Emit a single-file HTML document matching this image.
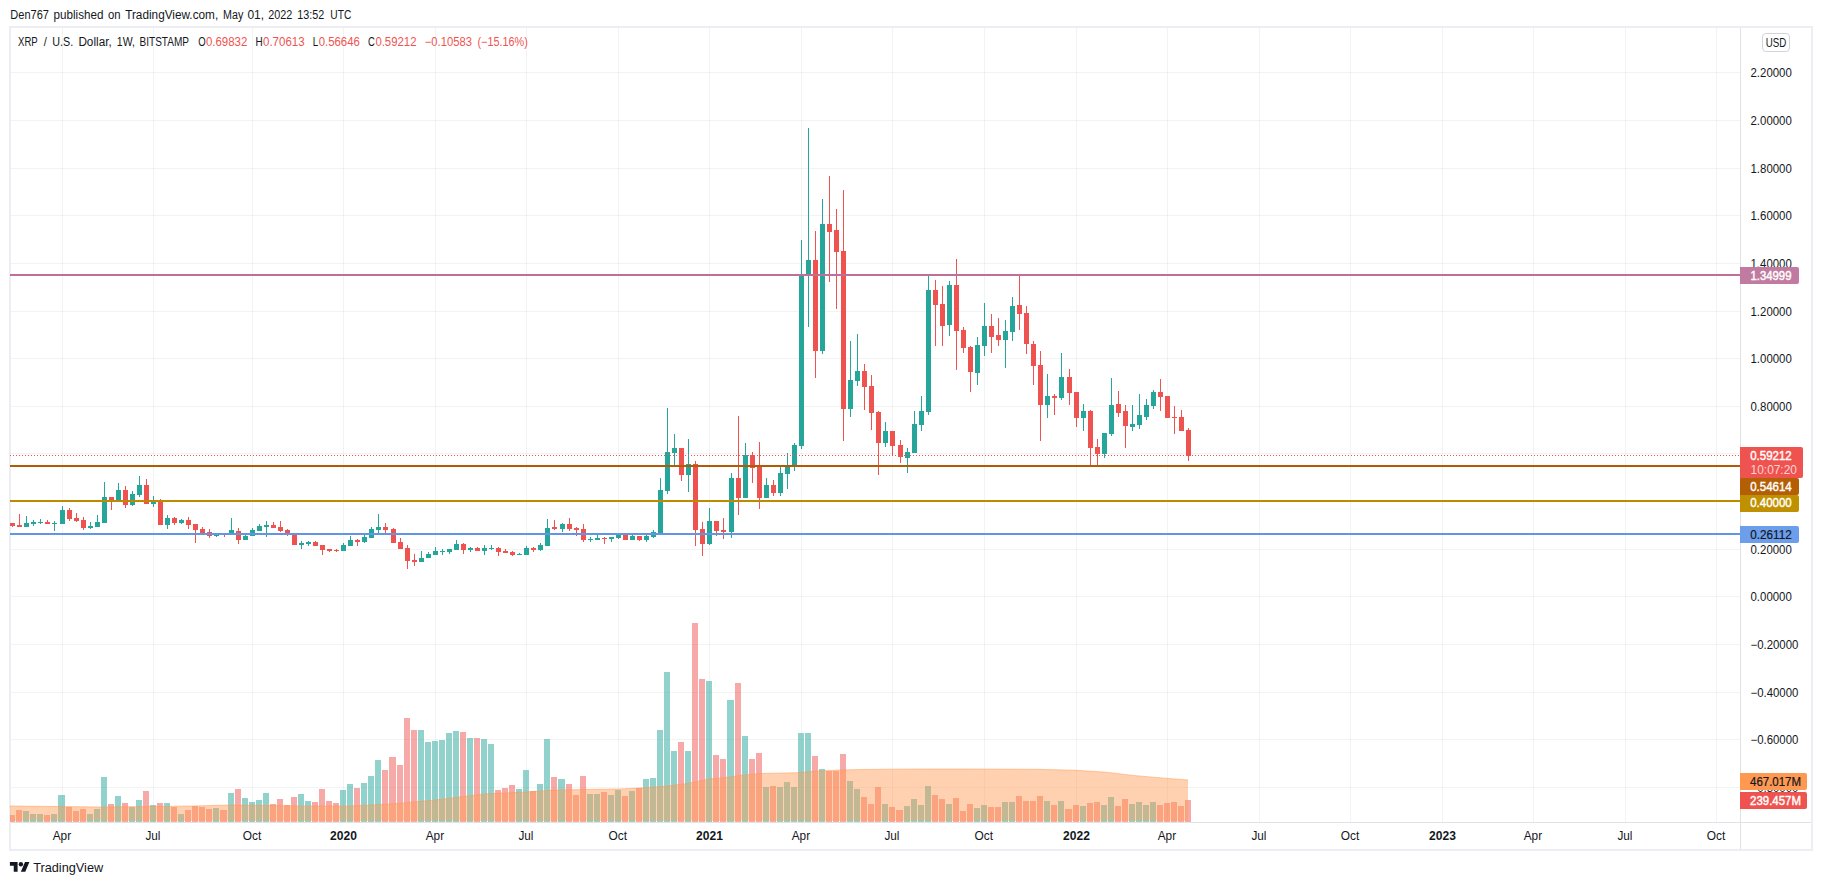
<!DOCTYPE html>
<html><head><meta charset="utf-8"><title>XRP / U.S. Dollar</title><style>html,body{margin:0;padding:0;background:#fff}body{width:1822px;height:885px;overflow:hidden}svg{display:block}</style></head><body>
<svg width="1822" height="885" viewBox="0 0 1822 885" font-family='"Liberation Sans", sans-serif'>
<rect width="1822" height="885" fill="#fff"/>
<defs><clipPath id="pane"><rect x="10" y="28" width="1730" height="794"/></clipPath></defs>
<g shape-rendering="crispEdges">
<rect x="9" y="26" width="1804" height="2" fill="#eceef3"/>
<rect x="9" y="849" width="1804" height="2" fill="#eceef3"/>
<rect x="9" y="26" width="2" height="825" fill="#eceef3"/>
<rect x="1811" y="26" width="2" height="825" fill="#eceef3"/>
</g>
<g fill="rgba(42,46,57,0.06)" shape-rendering="crispEdges">
<rect x="11" y="787" width="1729" height="1"/>
<rect x="11" y="739" width="1729" height="1"/>
<rect x="11" y="692" width="1729" height="1"/>
<rect x="11" y="644" width="1729" height="1"/>
<rect x="11" y="596" width="1729" height="1"/>
<rect x="11" y="549" width="1729" height="1"/>
<rect x="11" y="501" width="1729" height="1"/>
<rect x="11" y="453" width="1729" height="1"/>
<rect x="11" y="406" width="1729" height="1"/>
<rect x="11" y="358" width="1729" height="1"/>
<rect x="11" y="311" width="1729" height="1"/>
<rect x="11" y="263" width="1729" height="1"/>
<rect x="11" y="215" width="1729" height="1"/>
<rect x="11" y="168" width="1729" height="1"/>
<rect x="11" y="120" width="1729" height="1"/>
<rect x="11" y="72" width="1729" height="1"/>
<rect x="62" y="28" width="1" height="794"/>
<rect x="153" y="28" width="1" height="794"/>
<rect x="252" y="28" width="1" height="794"/>
<rect x="343" y="28" width="1" height="794"/>
<rect x="435" y="28" width="1" height="794"/>
<rect x="526" y="28" width="1" height="794"/>
<rect x="618" y="28" width="1" height="794"/>
<rect x="709" y="28" width="1" height="794"/>
<rect x="801" y="28" width="1" height="794"/>
<rect x="892" y="28" width="1" height="794"/>
<rect x="984" y="28" width="1" height="794"/>
<rect x="1076" y="28" width="1" height="794"/>
<rect x="1167" y="28" width="1" height="794"/>
<rect x="1259" y="28" width="1" height="794"/>
<rect x="1350" y="28" width="1" height="794"/>
<rect x="1442" y="28" width="1" height="794"/>
<rect x="1533" y="28" width="1" height="794"/>
<rect x="1625" y="28" width="1" height="794"/>
<rect x="1716" y="28" width="1" height="794"/>
</g>
<g clip-path="url(#pane)" shape-rendering="crispEdges">
<rect x="9" y="815" width="6" height="7" fill="rgba(239,83,80,0.5)"/>
<rect x="16" y="810" width="6" height="12" fill="rgba(239,83,80,0.5)"/>
<rect x="23" y="811" width="6" height="11" fill="rgba(38,166,154,0.5)"/>
<rect x="30" y="814" width="6" height="8" fill="rgba(38,166,154,0.5)"/>
<rect x="37" y="814" width="6" height="8" fill="rgba(38,166,154,0.5)"/>
<rect x="44" y="815" width="6" height="7" fill="rgba(239,83,80,0.5)"/>
<rect x="51" y="814" width="6" height="8" fill="rgba(38,166,154,0.5)"/>
<rect x="58" y="795" width="7" height="27" fill="rgba(38,166,154,0.5)"/>
<rect x="66" y="807" width="6" height="15" fill="rgba(239,83,80,0.5)"/>
<rect x="73" y="811" width="6" height="11" fill="rgba(239,83,80,0.5)"/>
<rect x="80" y="809" width="6" height="13" fill="rgba(239,83,80,0.5)"/>
<rect x="87" y="814" width="6" height="8" fill="rgba(38,166,154,0.5)"/>
<rect x="94" y="809" width="6" height="13" fill="rgba(38,166,154,0.5)"/>
<rect x="101" y="777" width="6" height="45" fill="rgba(38,166,154,0.5)"/>
<rect x="108" y="804" width="6" height="18" fill="rgba(239,83,80,0.5)"/>
<rect x="115" y="796" width="6" height="26" fill="rgba(38,166,154,0.5)"/>
<rect x="122" y="803" width="6" height="19" fill="rgba(239,83,80,0.5)"/>
<rect x="129" y="807" width="6" height="15" fill="rgba(38,166,154,0.5)"/>
<rect x="136" y="800" width="6" height="22" fill="rgba(38,166,154,0.5)"/>
<rect x="143" y="791" width="6" height="31" fill="rgba(239,83,80,0.5)"/>
<rect x="150" y="805" width="6" height="17" fill="rgba(38,166,154,0.5)"/>
<rect x="157" y="803" width="6" height="19" fill="rgba(239,83,80,0.5)"/>
<rect x="164" y="803" width="6" height="19" fill="rgba(38,166,154,0.5)"/>
<rect x="171" y="807" width="6" height="15" fill="rgba(239,83,80,0.5)"/>
<rect x="178" y="814" width="6" height="8" fill="rgba(38,166,154,0.5)"/>
<rect x="185" y="810" width="6" height="12" fill="rgba(239,83,80,0.5)"/>
<rect x="192" y="806" width="6" height="16" fill="rgba(239,83,80,0.5)"/>
<rect x="199" y="807" width="6" height="15" fill="rgba(239,83,80,0.5)"/>
<rect x="206" y="809" width="6" height="13" fill="rgba(239,83,80,0.5)"/>
<rect x="213" y="808" width="6" height="14" fill="rgba(38,166,154,0.5)"/>
<rect x="220" y="810" width="7" height="12" fill="rgba(239,83,80,0.5)"/>
<rect x="228" y="793" width="6" height="29" fill="rgba(38,166,154,0.5)"/>
<rect x="235" y="789" width="6" height="33" fill="rgba(239,83,80,0.5)"/>
<rect x="242" y="798" width="6" height="24" fill="rgba(38,166,154,0.5)"/>
<rect x="249" y="802" width="6" height="20" fill="rgba(38,166,154,0.5)"/>
<rect x="256" y="800" width="6" height="22" fill="rgba(38,166,154,0.5)"/>
<rect x="263" y="793" width="6" height="29" fill="rgba(38,166,154,0.5)"/>
<rect x="270" y="804" width="6" height="18" fill="rgba(239,83,80,0.5)"/>
<rect x="277" y="799" width="6" height="23" fill="rgba(239,83,80,0.5)"/>
<rect x="284" y="805" width="6" height="17" fill="rgba(239,83,80,0.5)"/>
<rect x="291" y="797" width="6" height="25" fill="rgba(239,83,80,0.5)"/>
<rect x="298" y="794" width="6" height="28" fill="rgba(38,166,154,0.5)"/>
<rect x="305" y="801" width="6" height="21" fill="rgba(38,166,154,0.5)"/>
<rect x="312" y="802" width="6" height="20" fill="rgba(239,83,80,0.5)"/>
<rect x="319" y="789" width="6" height="33" fill="rgba(239,83,80,0.5)"/>
<rect x="326" y="801" width="6" height="21" fill="rgba(239,83,80,0.5)"/>
<rect x="333" y="803" width="6" height="19" fill="rgba(239,83,80,0.5)"/>
<rect x="340" y="790" width="6" height="32" fill="rgba(38,166,154,0.5)"/>
<rect x="347" y="784" width="6" height="38" fill="rgba(38,166,154,0.5)"/>
<rect x="354" y="788" width="6" height="34" fill="rgba(239,83,80,0.5)"/>
<rect x="361" y="783" width="6" height="39" fill="rgba(38,166,154,0.5)"/>
<rect x="368" y="776" width="6" height="46" fill="rgba(38,166,154,0.5)"/>
<rect x="375" y="760" width="6" height="62" fill="rgba(38,166,154,0.5)"/>
<rect x="382" y="770" width="6" height="52" fill="rgba(239,83,80,0.5)"/>
<rect x="389" y="757" width="7" height="65" fill="rgba(239,83,80,0.5)"/>
<rect x="397" y="765" width="6" height="57" fill="rgba(239,83,80,0.5)"/>
<rect x="404" y="718" width="6" height="104" fill="rgba(239,83,80,0.5)"/>
<rect x="411" y="730" width="6" height="92" fill="rgba(239,83,80,0.5)"/>
<rect x="418" y="730" width="6" height="92" fill="rgba(38,166,154,0.5)"/>
<rect x="425" y="742" width="6" height="80" fill="rgba(38,166,154,0.5)"/>
<rect x="432" y="741" width="6" height="81" fill="rgba(38,166,154,0.5)"/>
<rect x="439" y="740" width="6" height="82" fill="rgba(38,166,154,0.5)"/>
<rect x="446" y="733" width="6" height="89" fill="rgba(38,166,154,0.5)"/>
<rect x="453" y="731" width="6" height="91" fill="rgba(38,166,154,0.5)"/>
<rect x="460" y="732" width="6" height="90" fill="rgba(239,83,80,0.5)"/>
<rect x="467" y="738" width="6" height="84" fill="rgba(38,166,154,0.5)"/>
<rect x="474" y="738" width="6" height="84" fill="rgba(239,83,80,0.5)"/>
<rect x="481" y="739" width="6" height="83" fill="rgba(38,166,154,0.5)"/>
<rect x="488" y="744" width="6" height="78" fill="rgba(38,166,154,0.5)"/>
<rect x="495" y="790" width="6" height="32" fill="rgba(239,83,80,0.5)"/>
<rect x="502" y="788" width="6" height="34" fill="rgba(239,83,80,0.5)"/>
<rect x="509" y="785" width="6" height="37" fill="rgba(239,83,80,0.5)"/>
<rect x="516" y="789" width="6" height="33" fill="rgba(38,166,154,0.5)"/>
<rect x="523" y="770" width="6" height="52" fill="rgba(38,166,154,0.5)"/>
<rect x="530" y="791" width="6" height="31" fill="rgba(239,83,80,0.5)"/>
<rect x="537" y="784" width="6" height="38" fill="rgba(38,166,154,0.5)"/>
<rect x="544" y="739" width="6" height="83" fill="rgba(38,166,154,0.5)"/>
<rect x="551" y="777" width="6" height="45" fill="rgba(239,83,80,0.5)"/>
<rect x="558" y="779" width="7" height="43" fill="rgba(38,166,154,0.5)"/>
<rect x="566" y="784" width="6" height="38" fill="rgba(239,83,80,0.5)"/>
<rect x="573" y="795" width="6" height="27" fill="rgba(239,83,80,0.5)"/>
<rect x="580" y="776" width="6" height="46" fill="rgba(239,83,80,0.5)"/>
<rect x="587" y="794" width="6" height="28" fill="rgba(38,166,154,0.5)"/>
<rect x="594" y="794" width="6" height="28" fill="rgba(38,166,154,0.5)"/>
<rect x="601" y="792" width="6" height="30" fill="rgba(239,83,80,0.5)"/>
<rect x="608" y="795" width="6" height="27" fill="rgba(38,166,154,0.5)"/>
<rect x="615" y="790" width="6" height="32" fill="rgba(38,166,154,0.5)"/>
<rect x="622" y="796" width="6" height="26" fill="rgba(239,83,80,0.5)"/>
<rect x="629" y="791" width="6" height="31" fill="rgba(38,166,154,0.5)"/>
<rect x="636" y="788" width="6" height="34" fill="rgba(239,83,80,0.5)"/>
<rect x="643" y="779" width="6" height="43" fill="rgba(38,166,154,0.5)"/>
<rect x="650" y="778" width="6" height="44" fill="rgba(38,166,154,0.5)"/>
<rect x="657" y="730" width="6" height="92" fill="rgba(38,166,154,0.5)"/>
<rect x="664" y="672" width="6" height="150" fill="rgba(38,166,154,0.5)"/>
<rect x="671" y="751" width="6" height="71" fill="rgba(38,166,154,0.5)"/>
<rect x="678" y="742" width="6" height="80" fill="rgba(239,83,80,0.5)"/>
<rect x="685" y="751" width="6" height="71" fill="rgba(38,166,154,0.5)"/>
<rect x="692" y="623" width="6" height="199" fill="rgba(239,83,80,0.5)"/>
<rect x="699" y="679" width="6" height="143" fill="rgba(239,83,80,0.5)"/>
<rect x="706" y="681" width="6" height="141" fill="rgba(38,166,154,0.5)"/>
<rect x="713" y="755" width="6" height="67" fill="rgba(239,83,80,0.5)"/>
<rect x="720" y="759" width="6" height="63" fill="rgba(239,83,80,0.5)"/>
<rect x="727" y="700" width="7" height="122" fill="rgba(38,166,154,0.5)"/>
<rect x="735" y="683" width="6" height="139" fill="rgba(239,83,80,0.5)"/>
<rect x="742" y="736" width="6" height="86" fill="rgba(38,166,154,0.5)"/>
<rect x="749" y="759" width="6" height="63" fill="rgba(239,83,80,0.5)"/>
<rect x="756" y="753" width="6" height="69" fill="rgba(239,83,80,0.5)"/>
<rect x="763" y="787" width="6" height="35" fill="rgba(38,166,154,0.5)"/>
<rect x="770" y="786" width="6" height="36" fill="rgba(239,83,80,0.5)"/>
<rect x="777" y="787" width="6" height="35" fill="rgba(38,166,154,0.5)"/>
<rect x="784" y="782" width="6" height="40" fill="rgba(38,166,154,0.5)"/>
<rect x="791" y="787" width="6" height="35" fill="rgba(38,166,154,0.5)"/>
<rect x="798" y="733" width="6" height="89" fill="rgba(38,166,154,0.5)"/>
<rect x="805" y="733" width="6" height="89" fill="rgba(38,166,154,0.5)"/>
<rect x="812" y="756" width="6" height="66" fill="rgba(239,83,80,0.5)"/>
<rect x="819" y="769" width="6" height="53" fill="rgba(38,166,154,0.5)"/>
<rect x="826" y="771" width="6" height="51" fill="rgba(239,83,80,0.5)"/>
<rect x="833" y="771" width="6" height="51" fill="rgba(239,83,80,0.5)"/>
<rect x="840" y="754" width="6" height="68" fill="rgba(239,83,80,0.5)"/>
<rect x="847" y="781" width="6" height="41" fill="rgba(38,166,154,0.5)"/>
<rect x="854" y="789" width="6" height="33" fill="rgba(38,166,154,0.5)"/>
<rect x="861" y="797" width="6" height="25" fill="rgba(239,83,80,0.5)"/>
<rect x="868" y="804" width="6" height="18" fill="rgba(239,83,80,0.5)"/>
<rect x="875" y="787" width="6" height="35" fill="rgba(239,83,80,0.5)"/>
<rect x="882" y="804" width="6" height="18" fill="rgba(38,166,154,0.5)"/>
<rect x="889" y="807" width="6" height="15" fill="rgba(239,83,80,0.5)"/>
<rect x="896" y="810" width="7" height="12" fill="rgba(239,83,80,0.5)"/>
<rect x="904" y="806" width="6" height="16" fill="rgba(38,166,154,0.5)"/>
<rect x="911" y="799" width="6" height="23" fill="rgba(38,166,154,0.5)"/>
<rect x="918" y="805" width="6" height="17" fill="rgba(38,166,154,0.5)"/>
<rect x="925" y="786" width="6" height="36" fill="rgba(38,166,154,0.5)"/>
<rect x="932" y="795" width="6" height="27" fill="rgba(239,83,80,0.5)"/>
<rect x="939" y="799" width="6" height="23" fill="rgba(239,83,80,0.5)"/>
<rect x="946" y="804" width="6" height="18" fill="rgba(38,166,154,0.5)"/>
<rect x="953" y="798" width="6" height="24" fill="rgba(239,83,80,0.5)"/>
<rect x="960" y="811" width="6" height="11" fill="rgba(239,83,80,0.5)"/>
<rect x="967" y="804" width="6" height="18" fill="rgba(239,83,80,0.5)"/>
<rect x="974" y="808" width="6" height="14" fill="rgba(38,166,154,0.5)"/>
<rect x="981" y="805" width="6" height="17" fill="rgba(38,166,154,0.5)"/>
<rect x="988" y="807" width="6" height="15" fill="rgba(239,83,80,0.5)"/>
<rect x="995" y="807" width="6" height="15" fill="rgba(239,83,80,0.5)"/>
<rect x="1002" y="802" width="6" height="20" fill="rgba(38,166,154,0.5)"/>
<rect x="1009" y="802" width="6" height="20" fill="rgba(38,166,154,0.5)"/>
<rect x="1016" y="796" width="6" height="26" fill="rgba(239,83,80,0.5)"/>
<rect x="1023" y="801" width="6" height="21" fill="rgba(239,83,80,0.5)"/>
<rect x="1030" y="801" width="6" height="21" fill="rgba(239,83,80,0.5)"/>
<rect x="1037" y="796" width="6" height="26" fill="rgba(239,83,80,0.5)"/>
<rect x="1044" y="801" width="6" height="21" fill="rgba(38,166,154,0.5)"/>
<rect x="1051" y="805" width="6" height="17" fill="rgba(239,83,80,0.5)"/>
<rect x="1058" y="801" width="6" height="21" fill="rgba(38,166,154,0.5)"/>
<rect x="1065" y="809" width="7" height="13" fill="rgba(239,83,80,0.5)"/>
<rect x="1073" y="805" width="6" height="17" fill="rgba(239,83,80,0.5)"/>
<rect x="1080" y="806" width="6" height="16" fill="rgba(38,166,154,0.5)"/>
<rect x="1087" y="803" width="6" height="19" fill="rgba(239,83,80,0.5)"/>
<rect x="1094" y="802" width="6" height="20" fill="rgba(239,83,80,0.5)"/>
<rect x="1101" y="805" width="6" height="17" fill="rgba(38,166,154,0.5)"/>
<rect x="1108" y="797" width="6" height="25" fill="rgba(38,166,154,0.5)"/>
<rect x="1115" y="806" width="6" height="16" fill="rgba(239,83,80,0.5)"/>
<rect x="1122" y="799" width="6" height="23" fill="rgba(239,83,80,0.5)"/>
<rect x="1129" y="804" width="6" height="18" fill="rgba(38,166,154,0.5)"/>
<rect x="1136" y="802" width="6" height="20" fill="rgba(38,166,154,0.5)"/>
<rect x="1143" y="805" width="6" height="17" fill="rgba(38,166,154,0.5)"/>
<rect x="1150" y="802" width="6" height="20" fill="rgba(38,166,154,0.5)"/>
<rect x="1157" y="805" width="6" height="17" fill="rgba(239,83,80,0.5)"/>
<rect x="1164" y="803" width="6" height="19" fill="rgba(239,83,80,0.5)"/>
<rect x="1171" y="802" width="6" height="20" fill="rgba(239,83,80,0.5)"/>
<rect x="1178" y="806" width="6" height="16" fill="rgba(239,83,80,0.5)"/>
<rect x="1185" y="800" width="6" height="22" fill="rgba(239,83,80,0.5)"/>
</g>
<polygon clip-path="url(#pane)" points="8,806 60,806.5 100,807 150,806.5 195,806 230,805 300,806 350,806 395,803.7 435,800 484,794 526,792 555,790 585,789.5 620,789 640,788 662,786.4 684,784 700,781 709,779 724,777.7 737,776 749,774.5 761,773.5 775,773.2 796,772.8 815,771.2 840,770 865,769.5 890,769.2 927,769 965,769 1037,769.3 1076,770.3 1106,772.2 1133,775.4 1161,777.9 1188,780 1188,821 8,821" fill="rgba(255,152,80,0.45)"/>
<polyline clip-path="url(#pane)" points="8,806 60,806.5 100,807 150,806.5 195,806 230,805 300,806 350,806 395,803.7 435,800 484,794 526,792 555,790 585,789.5 620,789 640,788 662,786.4 684,784 700,781 709,779 724,777.7 737,776 749,774.5 761,773.5 775,773.2 796,772.8 815,771.2 840,770 865,769.5 890,769.2 927,769 965,769 1037,769.3 1076,770.3 1106,772.2 1133,775.4 1161,777.9 1188,780" fill="none" stroke="rgba(255,152,80,0.5)" stroke-width="1"/>
<g clip-path="url(#pane)" shape-rendering="crispEdges">
<rect x="12" y="523" width="1" height="4" fill="#ef5350"/><rect x="10" y="523" width="5" height="3" fill="#ef5350"/>
<rect x="19" y="514" width="1" height="13" fill="#ef5350"/><rect x="17" y="525" width="5" height="2" fill="#ef5350"/>
<rect x="26" y="516" width="1" height="11" fill="#26a69a"/><rect x="24" y="523" width="5" height="4" fill="#26a69a"/>
<rect x="33" y="520" width="1" height="6" fill="#26a69a"/><rect x="31" y="522" width="5" height="2" fill="#26a69a"/>
<rect x="40" y="519" width="1" height="5" fill="#26a69a"/><rect x="38" y="522" width="5" height="1" fill="#26a69a"/>
<rect x="47" y="520" width="1" height="4" fill="#ef5350"/><rect x="45" y="522" width="5" height="2" fill="#ef5350"/>
<rect x="54" y="521" width="1" height="10" fill="#26a69a"/><rect x="52" y="523" width="5" height="1" fill="#26a69a"/>
<rect x="62" y="506" width="1" height="18" fill="#26a69a"/><rect x="60" y="510" width="5" height="14" fill="#26a69a"/>
<rect x="69" y="508" width="1" height="13" fill="#ef5350"/><rect x="67" y="510" width="5" height="9" fill="#ef5350"/>
<rect x="76" y="513" width="1" height="9" fill="#ef5350"/><rect x="74" y="518" width="5" height="3" fill="#ef5350"/>
<rect x="83" y="517" width="1" height="13" fill="#ef5350"/><rect x="81" y="520" width="5" height="8" fill="#ef5350"/>
<rect x="90" y="522" width="1" height="7" fill="#26a69a"/><rect x="88" y="526" width="5" height="2" fill="#26a69a"/>
<rect x="97" y="515" width="1" height="12" fill="#26a69a"/><rect x="95" y="522" width="5" height="5" fill="#26a69a"/>
<rect x="104" y="482" width="1" height="41" fill="#26a69a"/><rect x="102" y="497" width="5" height="26" fill="#26a69a"/>
<rect x="111" y="497" width="1" height="13" fill="#ef5350"/><rect x="109" y="497" width="5" height="3" fill="#ef5350"/>
<rect x="118" y="483" width="1" height="17" fill="#26a69a"/><rect x="116" y="490" width="5" height="10" fill="#26a69a"/>
<rect x="125" y="486" width="1" height="22" fill="#ef5350"/><rect x="123" y="490" width="5" height="15" fill="#ef5350"/>
<rect x="132" y="491" width="1" height="15" fill="#26a69a"/><rect x="130" y="494" width="5" height="11" fill="#26a69a"/>
<rect x="139" y="476" width="1" height="21" fill="#26a69a"/><rect x="137" y="485" width="5" height="10" fill="#26a69a"/>
<rect x="146" y="479" width="1" height="25" fill="#ef5350"/><rect x="144" y="485" width="5" height="19" fill="#ef5350"/>
<rect x="153" y="496" width="1" height="11" fill="#26a69a"/><rect x="151" y="502" width="5" height="2" fill="#26a69a"/>
<rect x="160" y="499" width="1" height="26" fill="#ef5350"/><rect x="158" y="501" width="5" height="24" fill="#ef5350"/>
<rect x="167" y="515" width="1" height="14" fill="#26a69a"/><rect x="165" y="518" width="5" height="7" fill="#26a69a"/>
<rect x="174" y="517" width="1" height="8" fill="#ef5350"/><rect x="172" y="518" width="5" height="5" fill="#ef5350"/>
<rect x="181" y="519" width="1" height="5" fill="#26a69a"/><rect x="179" y="520" width="5" height="3" fill="#26a69a"/>
<rect x="188" y="517" width="1" height="12" fill="#ef5350"/><rect x="186" y="520" width="5" height="5" fill="#ef5350"/>
<rect x="195" y="524" width="1" height="19" fill="#ef5350"/><rect x="193" y="524" width="5" height="6" fill="#ef5350"/>
<rect x="202" y="527" width="1" height="7" fill="#ef5350"/><rect x="200" y="529" width="5" height="5" fill="#ef5350"/>
<rect x="209" y="529" width="1" height="9" fill="#ef5350"/><rect x="207" y="532" width="5" height="4" fill="#ef5350"/>
<rect x="216" y="534" width="1" height="3" fill="#26a69a"/><rect x="214" y="534" width="5" height="2" fill="#26a69a"/>
<rect x="224" y="534" width="1" height="3" fill="#ef5350"/><rect x="222" y="534" width="5" height="1" fill="#ef5350"/>
<rect x="231" y="518" width="1" height="17" fill="#26a69a"/><rect x="229" y="530" width="5" height="5" fill="#26a69a"/>
<rect x="238" y="528" width="1" height="16" fill="#ef5350"/><rect x="236" y="531" width="5" height="9" fill="#ef5350"/>
<rect x="245" y="535" width="1" height="5" fill="#26a69a"/><rect x="243" y="536" width="5" height="4" fill="#26a69a"/>
<rect x="252" y="528" width="1" height="8" fill="#26a69a"/><rect x="250" y="530" width="5" height="6" fill="#26a69a"/>
<rect x="259" y="524" width="1" height="7" fill="#26a69a"/><rect x="257" y="526" width="5" height="5" fill="#26a69a"/>
<rect x="266" y="521" width="1" height="16" fill="#26a69a"/><rect x="264" y="525" width="5" height="2" fill="#26a69a"/>
<rect x="273" y="522" width="1" height="6" fill="#ef5350"/><rect x="271" y="525" width="5" height="3" fill="#ef5350"/>
<rect x="280" y="521" width="1" height="11" fill="#ef5350"/><rect x="278" y="527" width="5" height="4" fill="#ef5350"/>
<rect x="287" y="529" width="1" height="7" fill="#ef5350"/><rect x="285" y="530" width="5" height="5" fill="#ef5350"/>
<rect x="294" y="535" width="1" height="10" fill="#ef5350"/><rect x="292" y="535" width="5" height="10" fill="#ef5350"/>
<rect x="301" y="541" width="1" height="8" fill="#26a69a"/><rect x="299" y="543" width="5" height="2" fill="#26a69a"/>
<rect x="308" y="541" width="1" height="5" fill="#26a69a"/><rect x="306" y="542" width="5" height="2" fill="#26a69a"/>
<rect x="315" y="541" width="1" height="5" fill="#ef5350"/><rect x="313" y="542" width="5" height="4" fill="#ef5350"/>
<rect x="322" y="545" width="1" height="10" fill="#ef5350"/><rect x="320" y="545" width="5" height="5" fill="#ef5350"/>
<rect x="329" y="549" width="1" height="3" fill="#ef5350"/><rect x="327" y="549" width="5" height="2" fill="#ef5350"/>
<rect x="336" y="549" width="1" height="3" fill="#ef5350"/><rect x="334" y="550" width="5" height="1" fill="#ef5350"/>
<rect x="343" y="543" width="1" height="8" fill="#26a69a"/><rect x="341" y="545" width="5" height="6" fill="#26a69a"/>
<rect x="350" y="536" width="1" height="10" fill="#26a69a"/><rect x="348" y="540" width="5" height="6" fill="#26a69a"/>
<rect x="357" y="539" width="1" height="7" fill="#ef5350"/><rect x="355" y="540" width="5" height="2" fill="#ef5350"/>
<rect x="364" y="535" width="1" height="8" fill="#26a69a"/><rect x="362" y="537" width="5" height="5" fill="#26a69a"/>
<rect x="371" y="527" width="1" height="11" fill="#26a69a"/><rect x="369" y="529" width="5" height="9" fill="#26a69a"/>
<rect x="378" y="514" width="1" height="19" fill="#26a69a"/><rect x="376" y="527" width="5" height="3" fill="#26a69a"/>
<rect x="385" y="523" width="1" height="10" fill="#ef5350"/><rect x="383" y="527" width="5" height="3" fill="#ef5350"/>
<rect x="393" y="528" width="1" height="15" fill="#ef5350"/><rect x="391" y="529" width="5" height="14" fill="#ef5350"/>
<rect x="400" y="538" width="1" height="11" fill="#ef5350"/><rect x="398" y="542" width="5" height="7" fill="#ef5350"/>
<rect x="407" y="545" width="1" height="24" fill="#ef5350"/><rect x="405" y="548" width="5" height="13" fill="#ef5350"/>
<rect x="414" y="554" width="1" height="12" fill="#ef5350"/><rect x="412" y="560" width="5" height="2" fill="#ef5350"/>
<rect x="421" y="551" width="1" height="11" fill="#26a69a"/><rect x="419" y="558" width="5" height="4" fill="#26a69a"/>
<rect x="428" y="552" width="1" height="6" fill="#26a69a"/><rect x="426" y="554" width="5" height="4" fill="#26a69a"/>
<rect x="435" y="547" width="1" height="8" fill="#26a69a"/><rect x="433" y="551" width="5" height="4" fill="#26a69a"/>
<rect x="442" y="549" width="1" height="6" fill="#26a69a"/><rect x="440" y="551" width="5" height="1" fill="#26a69a"/>
<rect x="449" y="549" width="1" height="5" fill="#26a69a"/><rect x="447" y="549" width="5" height="3" fill="#26a69a"/>
<rect x="456" y="540" width="1" height="10" fill="#26a69a"/><rect x="454" y="544" width="5" height="6" fill="#26a69a"/>
<rect x="463" y="543" width="1" height="11" fill="#ef5350"/><rect x="461" y="544" width="5" height="6" fill="#ef5350"/>
<rect x="470" y="547" width="1" height="5" fill="#26a69a"/><rect x="468" y="548" width="5" height="2" fill="#26a69a"/>
<rect x="477" y="547" width="1" height="4" fill="#ef5350"/><rect x="475" y="548" width="5" height="3" fill="#ef5350"/>
<rect x="484" y="545" width="1" height="10" fill="#26a69a"/><rect x="482" y="548" width="5" height="3" fill="#26a69a"/>
<rect x="491" y="545" width="1" height="5" fill="#26a69a"/><rect x="489" y="548" width="5" height="1" fill="#26a69a"/>
<rect x="498" y="547" width="1" height="9" fill="#ef5350"/><rect x="496" y="548" width="5" height="4" fill="#ef5350"/>
<rect x="505" y="549" width="1" height="4" fill="#ef5350"/><rect x="503" y="551" width="5" height="2" fill="#ef5350"/>
<rect x="512" y="551" width="1" height="5" fill="#ef5350"/><rect x="510" y="552" width="5" height="3" fill="#ef5350"/>
<rect x="519" y="553" width="1" height="2" fill="#26a69a"/><rect x="517" y="554" width="5" height="1" fill="#26a69a"/>
<rect x="526" y="546" width="1" height="9" fill="#26a69a"/><rect x="524" y="548" width="5" height="7" fill="#26a69a"/>
<rect x="533" y="547" width="1" height="5" fill="#ef5350"/><rect x="531" y="548" width="5" height="2" fill="#ef5350"/>
<rect x="540" y="543" width="1" height="8" fill="#26a69a"/><rect x="538" y="545" width="5" height="5" fill="#26a69a"/>
<rect x="547" y="519" width="1" height="27" fill="#26a69a"/><rect x="545" y="528" width="5" height="18" fill="#26a69a"/>
<rect x="554" y="520" width="1" height="10" fill="#ef5350"/><rect x="552" y="527" width="5" height="2" fill="#ef5350"/>
<rect x="562" y="523" width="1" height="9" fill="#26a69a"/><rect x="560" y="524" width="5" height="5" fill="#26a69a"/>
<rect x="569" y="518" width="1" height="13" fill="#ef5350"/><rect x="567" y="524" width="5" height="5" fill="#ef5350"/>
<rect x="576" y="527" width="1" height="9" fill="#ef5350"/><rect x="574" y="528" width="5" height="2" fill="#ef5350"/>
<rect x="583" y="524" width="1" height="18" fill="#ef5350"/><rect x="581" y="529" width="5" height="11" fill="#ef5350"/>
<rect x="590" y="537" width="1" height="5" fill="#26a69a"/><rect x="588" y="539" width="5" height="1" fill="#26a69a"/>
<rect x="597" y="535" width="1" height="5" fill="#26a69a"/><rect x="595" y="538" width="5" height="2" fill="#26a69a"/>
<rect x="604" y="537" width="1" height="7" fill="#ef5350"/><rect x="602" y="538" width="5" height="1" fill="#ef5350"/>
<rect x="611" y="537" width="1" height="5" fill="#26a69a"/><rect x="609" y="537" width="5" height="2" fill="#26a69a"/>
<rect x="618" y="535" width="1" height="4" fill="#26a69a"/><rect x="616" y="535" width="5" height="3" fill="#26a69a"/>
<rect x="625" y="535" width="1" height="5" fill="#ef5350"/><rect x="623" y="535" width="5" height="5" fill="#ef5350"/>
<rect x="632" y="535" width="1" height="5" fill="#26a69a"/><rect x="630" y="536" width="5" height="4" fill="#26a69a"/>
<rect x="639" y="536" width="1" height="5" fill="#ef5350"/><rect x="637" y="536" width="5" height="4" fill="#ef5350"/>
<rect x="646" y="535" width="1" height="7" fill="#26a69a"/><rect x="644" y="536" width="5" height="4" fill="#26a69a"/>
<rect x="653" y="530" width="1" height="8" fill="#26a69a"/><rect x="651" y="532" width="5" height="5" fill="#26a69a"/>
<rect x="660" y="478" width="1" height="55" fill="#26a69a"/><rect x="658" y="490" width="5" height="43" fill="#26a69a"/>
<rect x="667" y="408" width="1" height="86" fill="#26a69a"/><rect x="665" y="452" width="5" height="39" fill="#26a69a"/>
<rect x="674" y="434" width="1" height="31" fill="#26a69a"/><rect x="672" y="448" width="5" height="5" fill="#26a69a"/>
<rect x="681" y="448" width="1" height="33" fill="#ef5350"/><rect x="679" y="448" width="5" height="27" fill="#ef5350"/>
<rect x="688" y="439" width="1" height="53" fill="#26a69a"/><rect x="686" y="464" width="5" height="11" fill="#26a69a"/>
<rect x="695" y="461" width="1" height="85" fill="#ef5350"/><rect x="693" y="464" width="5" height="66" fill="#ef5350"/>
<rect x="702" y="522" width="1" height="34" fill="#ef5350"/><rect x="700" y="529" width="5" height="15" fill="#ef5350"/>
<rect x="709" y="508" width="1" height="37" fill="#26a69a"/><rect x="707" y="521" width="5" height="23" fill="#26a69a"/>
<rect x="716" y="521" width="1" height="15" fill="#ef5350"/><rect x="714" y="521" width="5" height="10" fill="#ef5350"/>
<rect x="723" y="518" width="1" height="21" fill="#ef5350"/><rect x="721" y="530" width="5" height="2" fill="#ef5350"/>
<rect x="731" y="473" width="1" height="65" fill="#26a69a"/><rect x="729" y="478" width="5" height="54" fill="#26a69a"/>
<rect x="738" y="416" width="1" height="99" fill="#ef5350"/><rect x="736" y="478" width="5" height="20" fill="#ef5350"/>
<rect x="745" y="443" width="1" height="55" fill="#26a69a"/><rect x="743" y="455" width="5" height="43" fill="#26a69a"/>
<rect x="752" y="452" width="1" height="31" fill="#ef5350"/><rect x="750" y="455" width="5" height="13" fill="#ef5350"/>
<rect x="759" y="442" width="1" height="67" fill="#ef5350"/><rect x="757" y="466" width="5" height="32" fill="#ef5350"/>
<rect x="766" y="478" width="1" height="20" fill="#26a69a"/><rect x="764" y="485" width="5" height="13" fill="#26a69a"/>
<rect x="773" y="480" width="1" height="16" fill="#ef5350"/><rect x="771" y="485" width="5" height="8" fill="#ef5350"/>
<rect x="780" y="467" width="1" height="29" fill="#26a69a"/><rect x="778" y="473" width="5" height="20" fill="#26a69a"/>
<rect x="787" y="453" width="1" height="36" fill="#26a69a"/><rect x="785" y="467" width="5" height="7" fill="#26a69a"/>
<rect x="794" y="443" width="1" height="28" fill="#26a69a"/><rect x="792" y="445" width="5" height="21" fill="#26a69a"/>
<rect x="801" y="240" width="1" height="209" fill="#26a69a"/><rect x="799" y="275" width="5" height="171" fill="#26a69a"/>
<rect x="808" y="128" width="1" height="199" fill="#26a69a"/><rect x="806" y="260" width="5" height="14" fill="#26a69a"/>
<rect x="815" y="231" width="1" height="147" fill="#ef5350"/><rect x="813" y="260" width="5" height="91" fill="#ef5350"/>
<rect x="822" y="199" width="1" height="155" fill="#26a69a"/><rect x="820" y="224" width="5" height="127" fill="#26a69a"/>
<rect x="829" y="176" width="1" height="106" fill="#ef5350"/><rect x="827" y="224" width="5" height="8" fill="#ef5350"/>
<rect x="836" y="209" width="1" height="100" fill="#ef5350"/><rect x="834" y="230" width="5" height="22" fill="#ef5350"/>
<rect x="843" y="190" width="1" height="251" fill="#ef5350"/><rect x="841" y="251" width="5" height="158" fill="#ef5350"/>
<rect x="850" y="341" width="1" height="76" fill="#26a69a"/><rect x="848" y="380" width="5" height="29" fill="#26a69a"/>
<rect x="857" y="334" width="1" height="52" fill="#26a69a"/><rect x="855" y="371" width="5" height="10" fill="#26a69a"/>
<rect x="864" y="364" width="1" height="46" fill="#ef5350"/><rect x="862" y="371" width="5" height="16" fill="#ef5350"/>
<rect x="871" y="375" width="1" height="55" fill="#ef5350"/><rect x="869" y="386" width="5" height="27" fill="#ef5350"/>
<rect x="878" y="411" width="1" height="64" fill="#ef5350"/><rect x="876" y="412" width="5" height="31" fill="#ef5350"/>
<rect x="885" y="422" width="1" height="25" fill="#26a69a"/><rect x="883" y="431" width="5" height="12" fill="#26a69a"/>
<rect x="892" y="431" width="1" height="25" fill="#ef5350"/><rect x="890" y="431" width="5" height="15" fill="#ef5350"/>
<rect x="900" y="440" width="1" height="23" fill="#ef5350"/><rect x="898" y="445" width="5" height="12" fill="#ef5350"/>
<rect x="907" y="448" width="1" height="25" fill="#26a69a"/><rect x="905" y="452" width="5" height="6" fill="#26a69a"/>
<rect x="914" y="411" width="1" height="42" fill="#26a69a"/><rect x="912" y="424" width="5" height="29" fill="#26a69a"/>
<rect x="921" y="396" width="1" height="35" fill="#26a69a"/><rect x="919" y="411" width="5" height="14" fill="#26a69a"/>
<rect x="928" y="276" width="1" height="139" fill="#26a69a"/><rect x="926" y="290" width="5" height="122" fill="#26a69a"/>
<rect x="935" y="280" width="1" height="66" fill="#ef5350"/><rect x="933" y="290" width="5" height="15" fill="#ef5350"/>
<rect x="942" y="286" width="1" height="60" fill="#ef5350"/><rect x="940" y="304" width="5" height="22" fill="#ef5350"/>
<rect x="949" y="281" width="1" height="55" fill="#26a69a"/><rect x="947" y="285" width="5" height="40" fill="#26a69a"/>
<rect x="956" y="259" width="1" height="111" fill="#ef5350"/><rect x="954" y="285" width="5" height="46" fill="#ef5350"/>
<rect x="963" y="327" width="1" height="26" fill="#ef5350"/><rect x="961" y="330" width="5" height="18" fill="#ef5350"/>
<rect x="970" y="346" width="1" height="46" fill="#ef5350"/><rect x="968" y="347" width="5" height="25" fill="#ef5350"/>
<rect x="977" y="337" width="1" height="48" fill="#26a69a"/><rect x="975" y="345" width="5" height="28" fill="#26a69a"/>
<rect x="984" y="303" width="1" height="53" fill="#26a69a"/><rect x="982" y="326" width="5" height="20" fill="#26a69a"/>
<rect x="991" y="314" width="1" height="39" fill="#ef5350"/><rect x="989" y="326" width="5" height="11" fill="#ef5350"/>
<rect x="998" y="318" width="1" height="28" fill="#ef5350"/><rect x="996" y="335" width="5" height="5" fill="#ef5350"/>
<rect x="1005" y="320" width="1" height="48" fill="#26a69a"/><rect x="1003" y="331" width="5" height="9" fill="#26a69a"/>
<rect x="1012" y="297" width="1" height="44" fill="#26a69a"/><rect x="1010" y="306" width="5" height="26" fill="#26a69a"/>
<rect x="1019" y="275" width="1" height="55" fill="#ef5350"/><rect x="1017" y="305" width="5" height="9" fill="#ef5350"/>
<rect x="1026" y="306" width="1" height="48" fill="#ef5350"/><rect x="1024" y="313" width="5" height="31" fill="#ef5350"/>
<rect x="1033" y="341" width="1" height="44" fill="#ef5350"/><rect x="1031" y="344" width="5" height="22" fill="#ef5350"/>
<rect x="1040" y="351" width="1" height="90" fill="#ef5350"/><rect x="1038" y="365" width="5" height="40" fill="#ef5350"/>
<rect x="1047" y="374" width="1" height="44" fill="#26a69a"/><rect x="1045" y="396" width="5" height="9" fill="#26a69a"/>
<rect x="1054" y="394" width="1" height="21" fill="#ef5350"/><rect x="1052" y="396" width="5" height="2" fill="#ef5350"/>
<rect x="1061" y="353" width="1" height="47" fill="#26a69a"/><rect x="1059" y="377" width="5" height="21" fill="#26a69a"/>
<rect x="1069" y="369" width="1" height="36" fill="#ef5350"/><rect x="1067" y="377" width="5" height="16" fill="#ef5350"/>
<rect x="1076" y="392" width="1" height="35" fill="#ef5350"/><rect x="1074" y="392" width="5" height="26" fill="#ef5350"/>
<rect x="1083" y="404" width="1" height="27" fill="#26a69a"/><rect x="1081" y="411" width="5" height="7" fill="#26a69a"/>
<rect x="1090" y="410" width="1" height="55" fill="#ef5350"/><rect x="1088" y="411" width="5" height="37" fill="#ef5350"/>
<rect x="1097" y="439" width="1" height="26" fill="#ef5350"/><rect x="1095" y="447" width="5" height="7" fill="#ef5350"/>
<rect x="1104" y="433" width="1" height="25" fill="#26a69a"/><rect x="1102" y="433" width="5" height="21" fill="#26a69a"/>
<rect x="1111" y="378" width="1" height="58" fill="#26a69a"/><rect x="1109" y="405" width="5" height="29" fill="#26a69a"/>
<rect x="1118" y="391" width="1" height="26" fill="#ef5350"/><rect x="1116" y="404" width="5" height="9" fill="#ef5350"/>
<rect x="1125" y="405" width="1" height="43" fill="#ef5350"/><rect x="1123" y="411" width="5" height="15" fill="#ef5350"/>
<rect x="1132" y="405" width="1" height="26" fill="#26a69a"/><rect x="1130" y="424" width="5" height="3" fill="#26a69a"/>
<rect x="1139" y="394" width="1" height="35" fill="#26a69a"/><rect x="1137" y="415" width="5" height="10" fill="#26a69a"/>
<rect x="1146" y="399" width="1" height="21" fill="#26a69a"/><rect x="1144" y="405" width="5" height="12" fill="#26a69a"/>
<rect x="1153" y="390" width="1" height="19" fill="#26a69a"/><rect x="1151" y="392" width="5" height="14" fill="#26a69a"/>
<rect x="1160" y="379" width="1" height="32" fill="#ef5350"/><rect x="1158" y="392" width="5" height="5" fill="#ef5350"/>
<rect x="1167" y="396" width="1" height="22" fill="#ef5350"/><rect x="1165" y="396" width="5" height="22" fill="#ef5350"/>
<rect x="1174" y="406" width="1" height="28" fill="#ef5350"/><rect x="1172" y="417" width="5" height="1" fill="#ef5350"/>
<rect x="1181" y="410" width="1" height="21" fill="#ef5350"/><rect x="1179" y="417" width="5" height="14" fill="#ef5350"/>
<rect x="1188" y="428" width="1" height="33" fill="#ef5350"/><rect x="1186" y="430" width="5" height="26" fill="#ef5350"/>
</g>
<g shape-rendering="crispEdges">
<rect x="10" y="274" width="1730" height="2" fill="#bf6f9b"/>
<rect x="10" y="465" width="1730" height="2" fill="#b15b04"/>
<rect x="10" y="500" width="1730" height="2" fill="#bc8b00"/>
<rect x="10" y="533" width="1730" height="2" fill="#6295e8"/>
</g>
<line x1="10" y1="455.5" x2="1740" y2="455.5" stroke="#ef5350" stroke-width="1" stroke-dasharray="1 2" shape-rendering="crispEdges"/>
<g shape-rendering="crispEdges">
<rect x="1740" y="28" width="1" height="821" fill="#e1e2e5"/>
<rect x="11" y="822" width="1800" height="1" fill="#e1e2e5"/>
</g>
<text x="1750.5" y="791.5" font-size="12" fill="#131722" textLength="47.8" lengthAdjust="spacingAndGlyphs">−0.80000</text>
<text x="1750.5" y="743.5" font-size="12" fill="#131722" textLength="47.8" lengthAdjust="spacingAndGlyphs">−0.60000</text>
<text x="1750.5" y="696.5" font-size="12" fill="#131722" textLength="47.8" lengthAdjust="spacingAndGlyphs">−0.40000</text>
<text x="1750.5" y="648.5" font-size="12" fill="#131722" textLength="47.8" lengthAdjust="spacingAndGlyphs">−0.20000</text>
<text x="1750.5" y="600.5" font-size="12" fill="#131722" textLength="41.3" lengthAdjust="spacingAndGlyphs">0.00000</text>
<text x="1750.5" y="553.5" font-size="12" fill="#131722" textLength="41.3" lengthAdjust="spacingAndGlyphs">0.20000</text>
<text x="1750.5" y="505.5" font-size="12" fill="#131722" textLength="41.3" lengthAdjust="spacingAndGlyphs">0.40000</text>
<text x="1750.5" y="457.5" font-size="12" fill="#131722" textLength="41.3" lengthAdjust="spacingAndGlyphs">0.60000</text>
<text x="1750.5" y="410.5" font-size="12" fill="#131722" textLength="41.3" lengthAdjust="spacingAndGlyphs">0.80000</text>
<text x="1750.5" y="362.5" font-size="12" fill="#131722" textLength="41.3" lengthAdjust="spacingAndGlyphs">1.00000</text>
<text x="1750.5" y="315.5" font-size="12" fill="#131722" textLength="41.3" lengthAdjust="spacingAndGlyphs">1.20000</text>
<text x="1750.5" y="267.5" font-size="12" fill="#131722" textLength="41.3" lengthAdjust="spacingAndGlyphs">1.40000</text>
<text x="1750.5" y="219.5" font-size="12" fill="#131722" textLength="41.3" lengthAdjust="spacingAndGlyphs">1.60000</text>
<text x="1750.5" y="172.5" font-size="12" fill="#131722" textLength="41.3" lengthAdjust="spacingAndGlyphs">1.80000</text>
<text x="1750.5" y="124.5" font-size="12" fill="#131722" textLength="41.3" lengthAdjust="spacingAndGlyphs">2.00000</text>
<text x="1750.5" y="76.5" font-size="12" fill="#131722" textLength="41.3" lengthAdjust="spacingAndGlyphs">2.20000</text>
<rect x="1762.5" y="33.5" width="27" height="18" rx="3.5" fill="#fff" stroke="#d1d4dc" stroke-width="1"/>
<text x="1765.8" y="46.8" font-size="12" fill="#131722" textLength="20.6" lengthAdjust="spacingAndGlyphs">USD</text>
<path d="M1740 267h57a2 2 0 0 1 2 2v13a2 2 0 0 1 -2 2h-57z" fill="#c27ba0"/>
<text x="1750.5" y="280" font-size="12" fill="#fff" textLength="41" lengthAdjust="spacingAndGlyphs" stroke="#fff" stroke-width="0.4">1.34999</text>
<path d="M1740 447h61a2 2 0 0 1 2 2v27a2 2 0 0 1 -2 2h-61z" fill="#ef5350"/>
<text x="1750.2" y="459.8" font-size="12" fill="#fff" textLength="41.5" lengthAdjust="spacingAndGlyphs" stroke="#fff" stroke-width="0.4">0.59212</text>
<text x="1750.6" y="473.7" font-size="12" fill="rgba(255,255,255,0.75)" textLength="46.3" lengthAdjust="spacingAndGlyphs">10:07:20</text>
<path d="M1740 478h57a2 2 0 0 1 2 2v13a2 2 0 0 1 -2 2h-57z" fill="#b45f06"/>
<text x="1750.2" y="490.5" font-size="12" fill="#fff" textLength="41.5" lengthAdjust="spacingAndGlyphs" stroke="#fff" stroke-width="0.4">0.54614</text>
<path d="M1740 495h57a2 2 0 0 1 2 2v13a2 2 0 0 1 -2 2h-57z" fill="#bf9000"/>
<text x="1750.2" y="507.3" font-size="12" fill="#fff" textLength="41.5" lengthAdjust="spacingAndGlyphs" stroke="#fff" stroke-width="0.4">0.40000</text>
<path d="M1740 526h57a2 2 0 0 1 2 2v13a2 2 0 0 1 -2 2h-57z" fill="#6d9eeb"/>
<text x="1750.2" y="538.8" font-size="12" fill="#131722" textLength="41.5" lengthAdjust="spacingAndGlyphs" stroke="#131722" stroke-width="0.2">0.26112</text>
<path d="M1740 773h65a2 2 0 0 1 2 2v13a2 2 0 0 1 -2 2h-65z" fill="#ff9850"/>
<text x="1750" y="785.8" font-size="12" fill="#131722" textLength="51" lengthAdjust="spacingAndGlyphs" stroke="#131722" stroke-width="0.2">467.017M</text>
<path d="M1740 792h65a2 2 0 0 1 2 2v13a2 2 0 0 1 -2 2h-65z" fill="#ef5350"/>
<text x="1750" y="804.8" font-size="12" fill="#fff" textLength="51" lengthAdjust="spacingAndGlyphs" stroke="#fff" stroke-width="0.4">239.457M</text>
<text x="52.7" y="840" font-size="12" fill="#131722" textLength="18.4" lengthAdjust="spacingAndGlyphs">Apr</text>
<text x="145.4" y="840" font-size="12" fill="#131722" textLength="15" lengthAdjust="spacingAndGlyphs">Jul</text>
<text x="242.7" y="840" font-size="12" fill="#131722" textLength="18.5" lengthAdjust="spacingAndGlyphs">Oct</text>
<text x="330.1" y="840" font-size="12" fill="#131722" font-weight="bold" textLength="26.8" lengthAdjust="spacingAndGlyphs">2020</text>
<text x="425.7" y="840" font-size="12" fill="#131722" textLength="18.4" lengthAdjust="spacingAndGlyphs">Apr</text>
<text x="518.4" y="840" font-size="12" fill="#131722" textLength="15" lengthAdjust="spacingAndGlyphs">Jul</text>
<text x="608.6" y="840" font-size="12" fill="#131722" textLength="18.5" lengthAdjust="spacingAndGlyphs">Oct</text>
<text x="696.1" y="840" font-size="12" fill="#131722" font-weight="bold" textLength="26.8" lengthAdjust="spacingAndGlyphs">2021</text>
<text x="791.7" y="840" font-size="12" fill="#131722" textLength="18.4" lengthAdjust="spacingAndGlyphs">Apr</text>
<text x="884.4" y="840" font-size="12" fill="#131722" textLength="15" lengthAdjust="spacingAndGlyphs">Jul</text>
<text x="974.6" y="840" font-size="12" fill="#131722" textLength="18.5" lengthAdjust="spacingAndGlyphs">Oct</text>
<text x="1063.1" y="840" font-size="12" fill="#131722" font-weight="bold" textLength="26.8" lengthAdjust="spacingAndGlyphs">2022</text>
<text x="1157.7" y="840" font-size="12" fill="#131722" textLength="18.4" lengthAdjust="spacingAndGlyphs">Apr</text>
<text x="1251.4" y="840" font-size="12" fill="#131722" textLength="15" lengthAdjust="spacingAndGlyphs">Jul</text>
<text x="1340.7" y="840" font-size="12" fill="#131722" textLength="18.5" lengthAdjust="spacingAndGlyphs">Oct</text>
<text x="1429.1" y="840" font-size="12" fill="#131722" font-weight="bold" textLength="26.8" lengthAdjust="spacingAndGlyphs">2023</text>
<text x="1523.7" y="840" font-size="12" fill="#131722" textLength="18.4" lengthAdjust="spacingAndGlyphs">Apr</text>
<text x="1617.4" y="840" font-size="12" fill="#131722" textLength="15" lengthAdjust="spacingAndGlyphs">Jul</text>
<text x="1706.7" y="840" font-size="12" fill="#131722" textLength="18.5" lengthAdjust="spacingAndGlyphs">Oct</text>
<text x="10.3" y="18.9" font-size="12" fill="#131722" textLength="38.6" lengthAdjust="spacingAndGlyphs">Den767</text>
<text x="53.5" y="18.9" font-size="12" fill="#131722" textLength="49.9" lengthAdjust="spacingAndGlyphs">published</text>
<text x="108.0" y="18.9" font-size="12" fill="#131722" textLength="12.6" lengthAdjust="spacingAndGlyphs">on</text>
<text x="125.2" y="18.9" font-size="12" fill="#131722" textLength="93.0" lengthAdjust="spacingAndGlyphs">TradingView.com,</text>
<text x="223.1" y="18.9" font-size="12" fill="#131722" textLength="20.2" lengthAdjust="spacingAndGlyphs">May</text>
<text x="247.4" y="18.9" font-size="12" fill="#131722" textLength="16.6" lengthAdjust="spacingAndGlyphs">01,</text>
<text x="268.3" y="18.9" font-size="12" fill="#131722" textLength="24.1" lengthAdjust="spacingAndGlyphs">2022</text>
<text x="297.3" y="18.9" font-size="12" fill="#131722" textLength="27.0" lengthAdjust="spacingAndGlyphs">13:52</text>
<text x="330.3" y="18.9" font-size="12" fill="#131722" textLength="21.0" lengthAdjust="spacingAndGlyphs">UTC</text>
<text x="18.0" y="46" font-size="12" fill="#131722" textLength="19.7" lengthAdjust="spacingAndGlyphs">XRP</text>
<text x="43.8" y="46" font-size="12" fill="#131722" textLength="3.1" lengthAdjust="spacingAndGlyphs">/</text>
<text x="52.3" y="46" font-size="12" fill="#131722" textLength="21.0" lengthAdjust="spacingAndGlyphs">U.S.</text>
<text x="78.4" y="46" font-size="12" fill="#131722" textLength="33.3" lengthAdjust="spacingAndGlyphs">Dollar,</text>
<text x="116.8" y="46" font-size="12" fill="#131722" textLength="18.1" lengthAdjust="spacingAndGlyphs">1W,</text>
<text x="139.5" y="46" font-size="12" fill="#131722" textLength="49.5" lengthAdjust="spacingAndGlyphs">BITSTAMP</text>
<text x="198.2" y="46" font-size="12" fill="#131722" textLength="7.4" lengthAdjust="spacingAndGlyphs">O</text>
<text x="205.9" y="46" font-size="12" fill="#ef5350" textLength="41.5" lengthAdjust="spacingAndGlyphs">0.69832</text>
<text x="255.4" y="46" font-size="12" fill="#131722" textLength="7.2" lengthAdjust="spacingAndGlyphs">H</text>
<text x="263" y="46" font-size="12" fill="#ef5350" textLength="41.6" lengthAdjust="spacingAndGlyphs">0.70613</text>
<text x="312.8" y="46" font-size="12" fill="#131722" textLength="5.4" lengthAdjust="spacingAndGlyphs">L</text>
<text x="318.7" y="46" font-size="12" fill="#ef5350" textLength="41.2" lengthAdjust="spacingAndGlyphs">0.56646</text>
<text x="368.1" y="46" font-size="12" fill="#131722" textLength="6.8" lengthAdjust="spacingAndGlyphs">C</text>
<text x="375.4" y="46" font-size="12" fill="#ef5350" textLength="41.1" lengthAdjust="spacingAndGlyphs">0.59212</text>
<text x="424.8" y="46" font-size="12" fill="#ef5350" textLength="47.1" lengthAdjust="spacingAndGlyphs">−0.10583</text>
<text x="477.5" y="46" font-size="12" fill="#ef5350" textLength="50.3" lengthAdjust="spacingAndGlyphs">(−15.16%)</text>
<g transform="translate(9.9,859.9) scale(0.549,0.542)" fill="#131722"><path d="M14 22H7V11H0V4h14v18zM28 22h-8l7.5-18h8L28 22z"/><circle cx="20" cy="8" r="4"/></g>
<text x="33.2" y="871.8" font-size="13" fill="#131722" textLength="70" lengthAdjust="spacingAndGlyphs">TradingView</text>
</svg>
</body></html>
